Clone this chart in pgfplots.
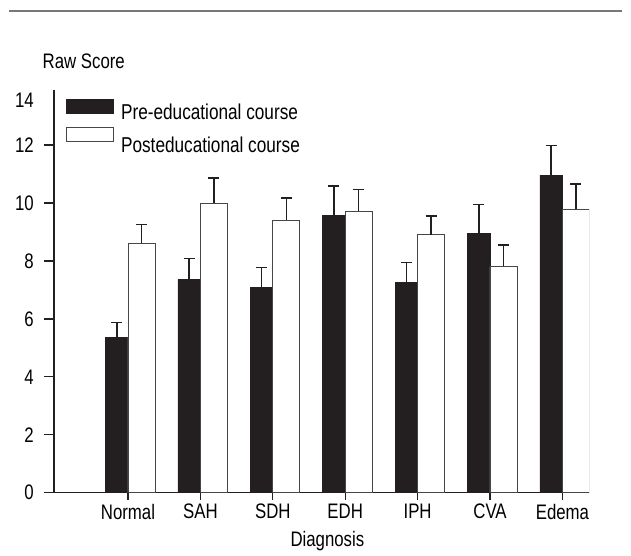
\documentclass[border=0pt]{standalone}
\usepackage{fontspec}
\setmainfont{Liberation Sans}[FakeStretch=0.8]
\usepackage{pgfplots}
\pgfplotsset{compat=1.18}
\definecolor{ink}{RGB}{35,31,32}
\definecolor{edge}{RGB}{70,70,70}
\definecolor{rulegray}{RGB}{120,120,120}
\begin{document}
\fontsize{21bp}{25bp}\selectfont
\begin{tikzpicture}
\useasboundingbox (-54bp,-63.3bp) rectangle (577bp,492.7bp);
\draw[rulegray, line width=1.2bp] (-45bp,481.7bp) -- (568bp,481.7bp);
\node[anchor=base west, inner sep=0] at (-11.5bp,423.7bp) {Raw Score};
\begin{axis}[
  scale only axis, width=535bp, height=402.7bp,
  xmin=-1.022, xmax=6.367, ymin=0, ymax=13.9,
  axis x line=bottom, axis y line=left,
  axis line style={-, ink, line width=1.3bp},
  x axis line style={shorten <=-5bp},
  ytick={0,2,...,12},
  extra y ticks={13.56}, extra y tick labels={14},
  extra y tick style={major tick length=0bp, yticklabel style={xshift=-10bp}},
  xtick={0,...,6}, xticklabels={Normal,SAH,SDH,EDH,IPH,CVA,Edema},
  tick align=outside, major tick length=10bp,
  xtick style={/pgfplots/major tick length=7bp},
  tick style={ink, line width=1.3bp},
  /pgf/number format/assume math mode=true,
  yticklabel style={xshift=-3bp},
  xticklabel style={yshift=6bp},
  xlabel={Diagnosis},
  xlabel style={at={(axis description cs:0.511,0)}, anchor=base, yshift=-53.3bp, inner sep=0pt},
  ybar,
  legend style={draw=none, fill=none, at={(axis description cs:0.0215,0.9789)}, anchor=north west,
    inner sep=0pt, row sep=2bp, column sep=6bp,
    font=\fontsize{21.5bp}{25bp}\selectfont,
    nodes={inner sep=1.5bp, text height=19bp, text depth=4bp}},
  legend cell align=left,
  error bars/y dir=plus, error bars/y explicit,
  error bars/error mark=-,
  error bars/error mark options={rotate=90, ink, line width=1.5bp, mark size=5.5bp},
  error bars/error bar style={ink, line width=1.5bp},
]
\addplot[fill=ink, draw=ink, line width=0.5bp, bar width=0.311, bar shift=-0.155,
  legend image code/.code={\draw[fill=ink, draw=ink, line width=0.5bp] (0bp,-2bp) rectangle (47bp,12bp);}]
  coordinates {
  (0,5.37) +- (0,0.50)
  (1,7.36) +- (0,0.72)
  (2,7.08) +- (0,0.70)
  (3,9.57) +- (0,1.01)
  (4,7.25) +- (0,0.70)
  (5,8.94) +- (0,1.01)
  (6,10.96) +- (0,1.02)
  };
\addplot[fill=white, draw=edge, line width=0.9bp, bar width=0.373, bar shift=0.186,
  legend image code/.code={\draw[fill=white, draw=edge, line width=0.9bp] (0bp,4bp) rectangle (47bp,18bp);}]
  coordinates {
  (0,8.61) +- (0,0.65)
  (1,10.00) +- (0,0.87)
  (2,9.41) +- (0,0.76)
  (3,9.71) +- (0,0.75)
  (4,8.90) +- (0,0.65)
  (5,7.81) +- (0,0.74)
  (6,9.78) +- (0,0.88)
  };
\legend{Pre-educational course, Posteducational course}
\end{axis}
\end{tikzpicture}
\end{document}
